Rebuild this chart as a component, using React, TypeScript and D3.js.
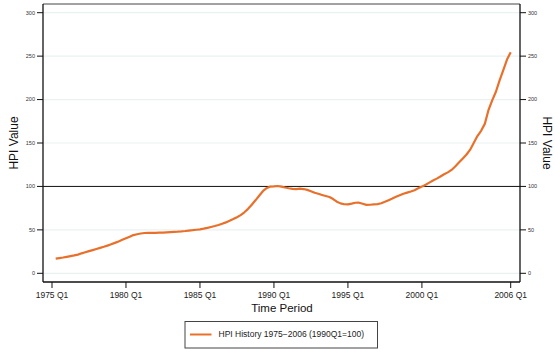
import React from "react";
import * as d3 from "d3";

// Quarterly HPI values, starting 1975Q2 (quarter index 1) through 2006Q1 (index 124)
const startQuarter = 1;
const hpi: number[] = [
  16.8, 17.5, 18.2,
  19.0, 19.8, 20.6, 21.5,
  23.0, 24.2, 25.5, 26.7,
  28.0, 29.3, 30.5, 31.9,
  33.4, 35.0, 36.7, 38.5,
  40.3, 42.2, 44.0, 45.0,
  45.8, 46.4, 46.6, 46.5,
  46.6, 46.8, 46.9, 47.2,
  47.5, 47.8, 48.0, 48.3,
  48.7, 49.2, 49.6, 50.1,
  50.6, 51.4, 52.3, 53.3,
  54.4, 55.6, 57.0, 58.6,
  60.4, 62.4, 64.6, 67.0,
  70.2, 74.2, 79.0, 84.0,
  89.3, 94.5, 98.0, 99.8,
  100.0, 100.5, 99.8, 98.8,
  97.9, 97.2, 97.0, 97.5,
  97.0, 96.0, 94.5, 92.8,
  91.5, 90.2, 89.0, 87.8,
  85.5, 82.5, 80.5, 79.5,
  79.3, 80.2, 81.2, 81.3,
  80.0, 78.8, 78.9, 79.3,
  79.6, 80.6, 82.3, 84.2,
  86.0, 88.0, 89.8, 91.5,
  92.9, 94.2, 95.7, 97.8,
  99.8, 102.0, 104.4, 106.9,
  109.0, 111.5, 114.0, 116.2,
  119.0, 123.0, 127.5, 132.0,
  136.5, 142.0, 150.0, 158.0,
  164.0, 172.0, 188.0, 199.0,
  209.0, 222.0, 234.0, 246.0,
  254.4,
];

const xTickQuarters = [0, 20, 40, 60, 80, 100, 124];
const xTickLabels = ["1975 Q1", "1980 Q1", "1985 Q1", "1990 Q1", "1995 Q1", "2000 Q1", "2006 Q1"];
const yTicks = [0, 50, 100, 150, 200, 250, 300];
const referenceValue = 100;
const legendLabel = "HPI History 1975\u22122006 (1990Q1=100)";
const xTitle = "Time Period";
const yTitle = "HPI Value";

const W = 555;
const H = 349;
const left = 43;
const right = 520;
const top = 4;
const bottom = 282;
const font = "'Liberation Sans', Arial, Helvetica, sans-serif";
const lineColor = "#e8702a";

export default function App() {
  const x = d3.scaleLinear().domain([0, 124]).range([52, 510.7]);
  const y = d3.scaleLinear().domain([0, 300]).range([273.3, 12.7]);
  const pts = hpi.map((v, i) => [x(startQuarter + i), y(v)] as [number, number]);
  const line = d3.line();
  return (
    <svg
      width={W}
      height={H}
      style={{ position: "absolute", left: 0, top: 0, background: "#fff" }}
      fontFamily={font}
    >
      <rect x={0} y={0} width={W} height={H} fill="#fff" />
      {yTicks.filter((t) => t !== referenceValue).map((t) => (
        <line key={"g" + t} x1={left} x2={right} y1={y(t)} y2={y(t)} stroke="#eaf1f2" strokeWidth={1.2} />
      ))}
      <line x1={left} x2={right} y1={y(referenceValue)} y2={y(referenceValue)} stroke="#111" strokeWidth={1} />
      {/* frame */}
      <line x1={left} x2={right} y1={top} y2={top} stroke="#444" strokeWidth={1} />
      <line x1={left} x2={left} y1={top} y2={bottom} stroke="#111" strokeWidth={1.3} />
      <line x1={right} x2={right} y1={top} y2={bottom} stroke="#111" strokeWidth={1.3} />
      <line x1={left} x2={right} y1={bottom} y2={bottom} stroke="#111" strokeWidth={1.3} />
      {/* y ticks */}
      {yTicks.map((t) => (
        <g key={"y" + t}>
          <line x1={left - 6} x2={left} y1={y(t)} y2={y(t)} stroke="#111" strokeWidth={1} />
          <text x={left - 8} y={y(t)} dy="0.35em" fontSize={5.5} textAnchor="end" fill="#333">{t}</text>
          <line x1={right} x2={right + 6} y1={y(t)} y2={y(t)} stroke="#111" strokeWidth={1} />
          <text x={right + 8} y={y(t)} dy="0.35em" fontSize={5.5} textAnchor="start" fill="#333">{t}</text>
        </g>
      ))}
      {/* x ticks */}
      {xTickQuarters.map((q, i) => (
        <g key={"x" + q}>
          <line x1={x(q)} x2={x(q)} y1={bottom} y2={bottom + 6} stroke="#111" strokeWidth={1} />
          <text x={x(q)} y={295.5} dy="0.35em" fontSize={8.5} textAnchor="middle" fill="#222">{xTickLabels[i]}</text>
        </g>
      ))}
      <path d={line(pts) || ""} fill="none" stroke={lineColor} strokeWidth={2.2} strokeLinejoin="round" />
      {/* titles */}
      <text x={282} y={307.5} dy="0.35em" fontSize={11.5} textAnchor="middle" fill="#111">{xTitle}</text>
      <text transform={`translate(14,143) rotate(-90)`} dy="0.35em" fontSize={12} textAnchor="middle" fill="#111">{yTitle}</text>
      <text transform={`translate(547,143) rotate(90)`} dy="0.35em" fontSize={12} textAnchor="middle" fill="#111">{yTitle}</text>
      {/* legend */}
      <rect x={185} y={321.5} width={192.5} height={26.5} fill="#fff" stroke="#444" strokeWidth={1} />
      <line x1={190} x2={211.5} y1={334.5} y2={334.5} stroke={lineColor} strokeWidth={2} />
      <text x={218.5} y={334.5} dy="0.35em" fontSize={8.5} fill="#222">{legendLabel}</text>
    </svg>
  );
}
